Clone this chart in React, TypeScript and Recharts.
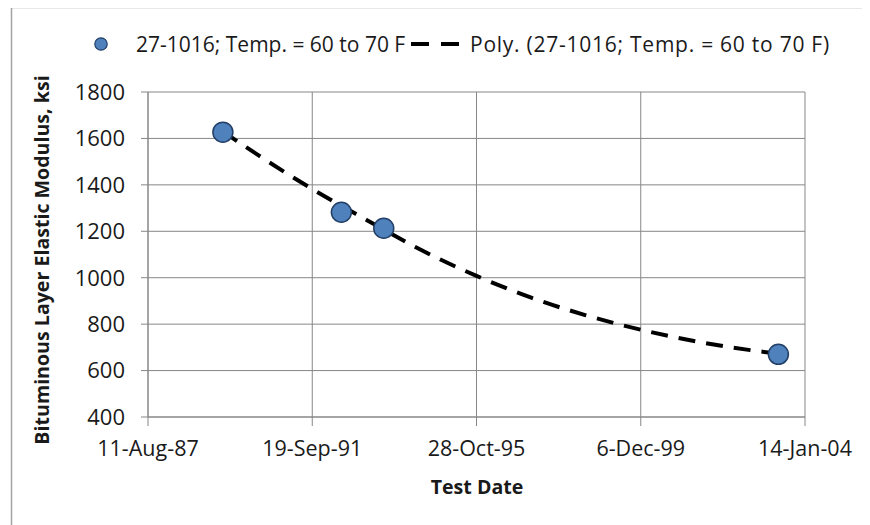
import React from 'react';
import { ComposedChart, Scatter, Line, XAxis, YAxis, CartesianGrid, Legend } from 'recharts';

// Test dates as Excel serial day numbers (days since 1899-12-30)
const testDates = [32684, 33766, 34153, 37757];
const modulusKsi = [1627, 1282, 1213, 670];

// Polynomial trend line
const trendDates = [32684, 33000, 33500, 34000, 34500, 35000, 35500, 36000, 36500, 37000, 37500, 37757];
const trendModulus = [1630, 1530, 1382, 1248, 1118, 1008, 914, 838, 776, 726, 688, 673];

const xTicks = [32000, 33500, 35000, 36500, 38000];
const xTickLabels = ['11-Aug-87', '19-Sep-91', '28-Oct-95', '6-Dec-99', '14-Jan-04'];
const yTicks = [400, 600, 800, 1000, 1200, 1400, 1600, 1800];

const seriesName = '27-1016; Temp. = 60 to 70 F';
const trendName = 'Poly. (27-1016; Temp. = 60 to 70 F)';
const xTitle = 'Test Date';
const yTitle = 'Bituminous Layer Elastic Modulus, ksi';

const points = testDates.map((d, i) => ({ d, v: modulusKsi[i] }));
const trend = trendDates.map((d, i) => ({ d, v: trendModulus[i] }));

const FONT = '"Open Sans", "Liberation Sans", sans-serif';
const TEXT = '#1a1a1a';
const GRID = '#878787';
const FILL = '#4F81BD';
const EDGE = '#223f66';

const LegendContent = () => (
  <div style={{ position: 'relative', width: 870, height: 32, fontFamily: FONT, fontSize: 21, color: TEXT }}>
    <svg style={{ position: 'absolute', left: 93, top: 8 }} width={16} height={16}>
      <circle cx={8} cy={8} r={6.2} fill={FILL} stroke={EDGE} strokeWidth={1.2} />
    </svg>
    <span style={{ position: 'absolute', left: 136, top: 0, lineHeight: '32px', whiteSpace: 'nowrap' }}>{seriesName}</span>
    <svg style={{ position: 'absolute', left: 411, top: 14 }} width={50} height={4}>
      <line x1={0} y1={2} x2={49} y2={2} stroke="#000" strokeWidth={4} strokeDasharray="18 12" />
    </svg>
    <span style={{ position: 'absolute', left: 470, top: 0, lineHeight: '32px', whiteSpace: 'nowrap', letterSpacing: 0.75 }}>{trendName}</span>
  </div>
);

const YTitle = () => (
  <text x={49} y={260} transform="rotate(-90 49 260)" textAnchor="middle" fontFamily={FONT} fontWeight={700} fontSize={19.6} fill={TEXT}>
    {yTitle}
  </text>
);

const XTitle = () => (
  <text x={477} y={494} textAnchor="middle" fontFamily={FONT} fontWeight={700} fontSize={19.6} fill={TEXT}>
    {xTitle}
  </text>
);

const Marker = (props: any) => (
  <circle cx={props.cx} cy={props.cy} r={10} fill={FILL} stroke={EDGE} strokeWidth={1.5} />
);

export default function App() {
  return (
    <div style={{ position: 'relative', width: 870, height: 525, margin: '-8px 0 0 -8px', background: '#fff', overflow: 'hidden' }}>
      <ComposedChart width={870} height={525} margin={{ top: 92, right: 65, bottom: 48, left: 88 }}>
        <CartesianGrid stroke={GRID} strokeWidth={1} />
        <XAxis
          dataKey="d"
          type="number"
          domain={[32000, 38000]}
          ticks={xTicks}
          interval={0}
          height={60}
          tickSize={9}
          tickMargin={15}
          axisLine={{ stroke: GRID }}
          tickLine={{ stroke: GRID }}
          tick={{ fontFamily: FONT, fontSize: 21.5, fill: TEXT }}
          tickFormatter={(v: number) => xTickLabels[xTicks.indexOf(v)]}
          label={<XTitle />}
        />
        <YAxis
          dataKey="v"
          type="number"
          domain={[400, 1800]}
          ticks={yTicks}
          interval={0}
          width={60}
          tickSize={7}
          tickMargin={16}
          axisLine={{ stroke: GRID }}
          tickLine={{ stroke: GRID }}
          tick={{ fontFamily: FONT, fontSize: 22, fill: TEXT }}
          label={<YTitle />}
        />
        <Legend layout="horizontal" verticalAlign="middle" align="center" content={<LegendContent />} wrapperStyle={{ top: 28, left: 0, width: 870, height: 32 }} />
        <Scatter name={seriesName} data={points} dataKey="v" shape={<Marker />} isAnimationActive={false} />
        <Line name={trendName} data={trend} dataKey="v" type="monotone" stroke="#000" strokeWidth={4} strokeDasharray="17 11" dot={false} activeDot={false} isAnimationActive={false} />
      </ComposedChart>
      <svg style={{ position: 'absolute', left: 0, top: 0, zIndex: 5, pointerEvents: 'none' }} width={870} height={525}>
        <path d="M 11.5 525 L 11.5 7.5 L 870 7.5" fill="none" stroke="#a3a3a3" strokeWidth={1.5} />
      </svg>
    </div>
  );
}
